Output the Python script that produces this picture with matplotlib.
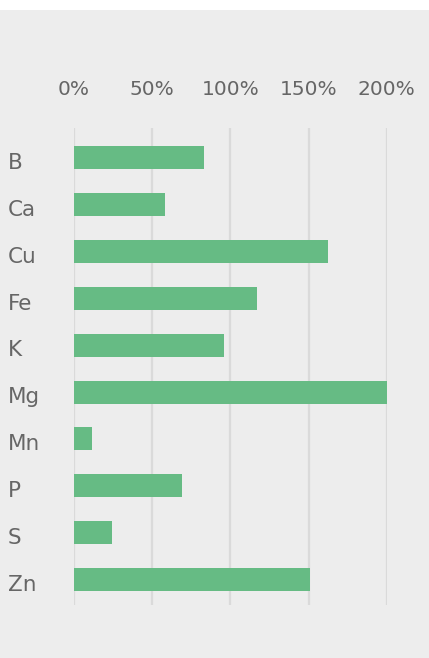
import matplotlib.pyplot as plt
from matplotlib.patches import Rectangle
from matplotlib.transforms import blended_transform_factory

# nutrient levels, percent of target
nutrients = ["B", "Ca", "Cu", "Fe", "K", "Mg", "Mn", "P", "S", "Zn"]
percent = [83, 58, 162.5, 117, 96, 200, 11.5, 69, 24.5, 151]
xticks = [0, 50, 100, 150, 200]
xtick_labels = ["0%", "50%", "100%", "150%", "200%"]

bg = "#ededed"
bar_color = "#66bb84"
text_color = "#666666"

plt.rcParams["font.family"] = ["DejaVu Sans"]

fig = plt.figure(figsize=(4.29, 6.58), dpi=100)
fig.patch.set_facecolor(bg)
# white strip along the top edge
fig.add_artist(Rectangle((0, 1 - 10 / 658), 1, 10 / 658, transform=fig.transFigure,
                         facecolor="white", edgecolor="none"))

ax = fig.add_axes([74 / 429, 1 - 605 / 658, 312.7 / 429, 477 / 658])
ax.set_facecolor(bg)

ypos = list(range(len(nutrients)))
ax.barh(ypos, percent, height=0.49, color=bar_color, zorder=3)

ax.set_xlim(0, 200)
ax.set_ylim(9.54, -0.63)

ax.set_xticks(xticks)
ax.set_xticklabels(xtick_labels)
ax.xaxis.tick_top()
ax.tick_params(axis="x", length=0, pad=21, labelsize=14.5, labelcolor=text_color)

# category labels, left aligned near the figure edge, sitting a bit below bar centre
ax.set_yticks([])
trans = blended_transform_factory(ax.transAxes, ax.transData)
for y, name in zip(ypos, nutrients):
    ax.text(-66 / 312.7, y + 0.24, name, transform=trans, ha="left", va="baseline",
            fontsize=15.5, color=text_color)

ax.grid(axis="x", color="#dadada", linewidth=1.6, zorder=0)
ax.grid(axis="y", visible=False)
for s in ax.spines.values():
    s.set_visible(False)

plt.savefig("out.png", dpi=100, facecolor=fig.get_facecolor())
plt.close()
